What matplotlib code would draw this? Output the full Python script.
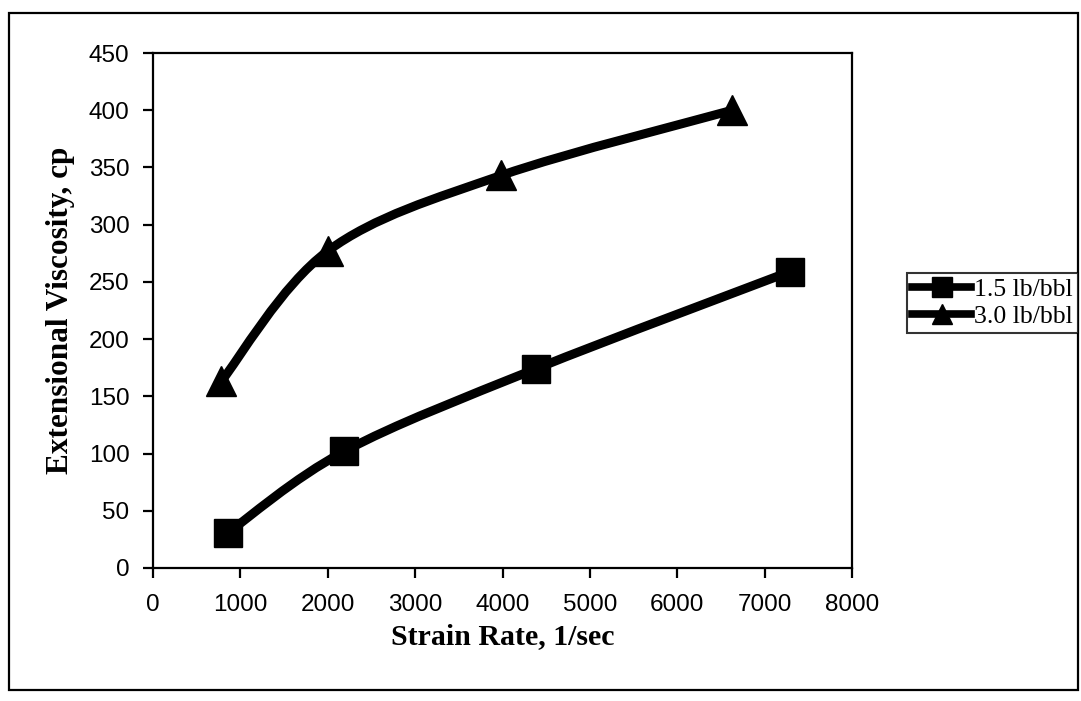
import numpy as np
import matplotlib
matplotlib.use("Agg")
import matplotlib.pyplot as plt
from matplotlib.path import Path
from matplotlib.patches import PathPatch, Rectangle
from matplotlib.lines import Line2D

# strain rate (1/sec) and extensional viscosity (cp) for each concentration
rate_15 = [860, 2190, 4380, 7290]
visc_15 = [31, 102, 174, 259]
rate_30 = [780, 2000, 3985, 6630]
visc_30 = [163, 277, 343, 400]
labels = ["1.5 lb/bbl", "3.0 lb/bbl"]
xticks = list(range(0, 8001, 1000))
yticks = list(range(0, 451, 50))


def smooth_path(xs, ys):
    # Catmull-Rom style bezier through the points (spreadsheet "smoothed line")
    pts = np.column_stack([xs, ys]).astype(float)
    n = len(pts)
    verts = [pts[0]]
    codes = [Path.MOVETO]
    for i in range(n - 1):
        p0 = pts[i - 1] if i > 0 else pts[i]
        p1 = pts[i]
        p2 = pts[i + 1]
        p3 = pts[i + 2] if i + 2 < n else pts[i + 1]
        c1 = p1 + (p2 - p0) / 6.0
        c2 = p2 - (p3 - p1) / 6.0
        verts += [c1, c2, p2]
        codes += [Path.CURVE4] * 3
    return Path(verts, codes)


serif = ["Liberation Serif", "DejaVu Serif"]
sans = ["Liberation Sans", "DejaVu Sans"]

fig = plt.figure(figsize=(10.81, 7.01), dpi=100)
ax = fig.add_axes([153 / 1081, 1 - 568 / 701, 699 / 1081, 515 / 701])

lw = 6.5
for xs, ys, mk, ms in [(rate_15, visc_15, "s", 19.5), (rate_30, visc_30, "^", 21.5)]:
    ax.add_patch(PathPatch(smooth_path(xs, ys), facecolor="none",
                           edgecolor="black", lw=lw, capstyle="round", zorder=2))
    ax.plot(xs, ys, linestyle="none", marker=mk, markersize=ms,
            color="black", zorder=3)

ax.set_xlim(0, 8000)
ax.set_ylim(0, 450)
ax.set_xticks(xticks)
ax.set_yticks(yticks)
for sp in ax.spines.values():
    sp.set_linewidth(1.6)
ax.tick_params(direction="out", length=7, width=1.6, labelsize=17.5)
ax.tick_params(axis="x", pad=12)
ax.tick_params(axis="y", pad=10)
for lab in ax.get_xticklabels() + ax.get_yticklabels():
    lab.set_family(sans)

ax.set_xlabel("Strain Rate, 1/sec", family=serif, fontweight="bold",
              fontsize=21.5, labelpad=5)
ax.set_ylabel("Extensional Viscosity, cp", family=serif, fontweight="bold",
              fontsize=22.5, labelpad=10)

handles = [
    Line2D([], [], color="black", lw=5.5, marker="s", markersize=14),
    Line2D([], [], color="black", lw=5.5, marker="^", markersize=15),
]
leg = fig.legend(handles, labels, loc="upper left",
                 bbox_to_anchor=(907 / 1081, 1 - 273 / 701),
                 prop={"family": serif, "size": 18.5}, frameon=True,
                 fancybox=False, borderpad=0.2, borderaxespad=0,
                 handlelength=2.3, handletextpad=0.1, labelspacing=0.15)
leg.get_frame().set_edgecolor("black")
leg.get_frame().set_linewidth(1.5)

# outer chart frame
fig.add_artist(Rectangle((9 / 1081, 11 / 701), 1069 / 1081, 677 / 701,
                         transform=fig.transFigure, fill=False,
                         edgecolor="black", lw=1.6))

fig.savefig("out.png", dpi=100)
